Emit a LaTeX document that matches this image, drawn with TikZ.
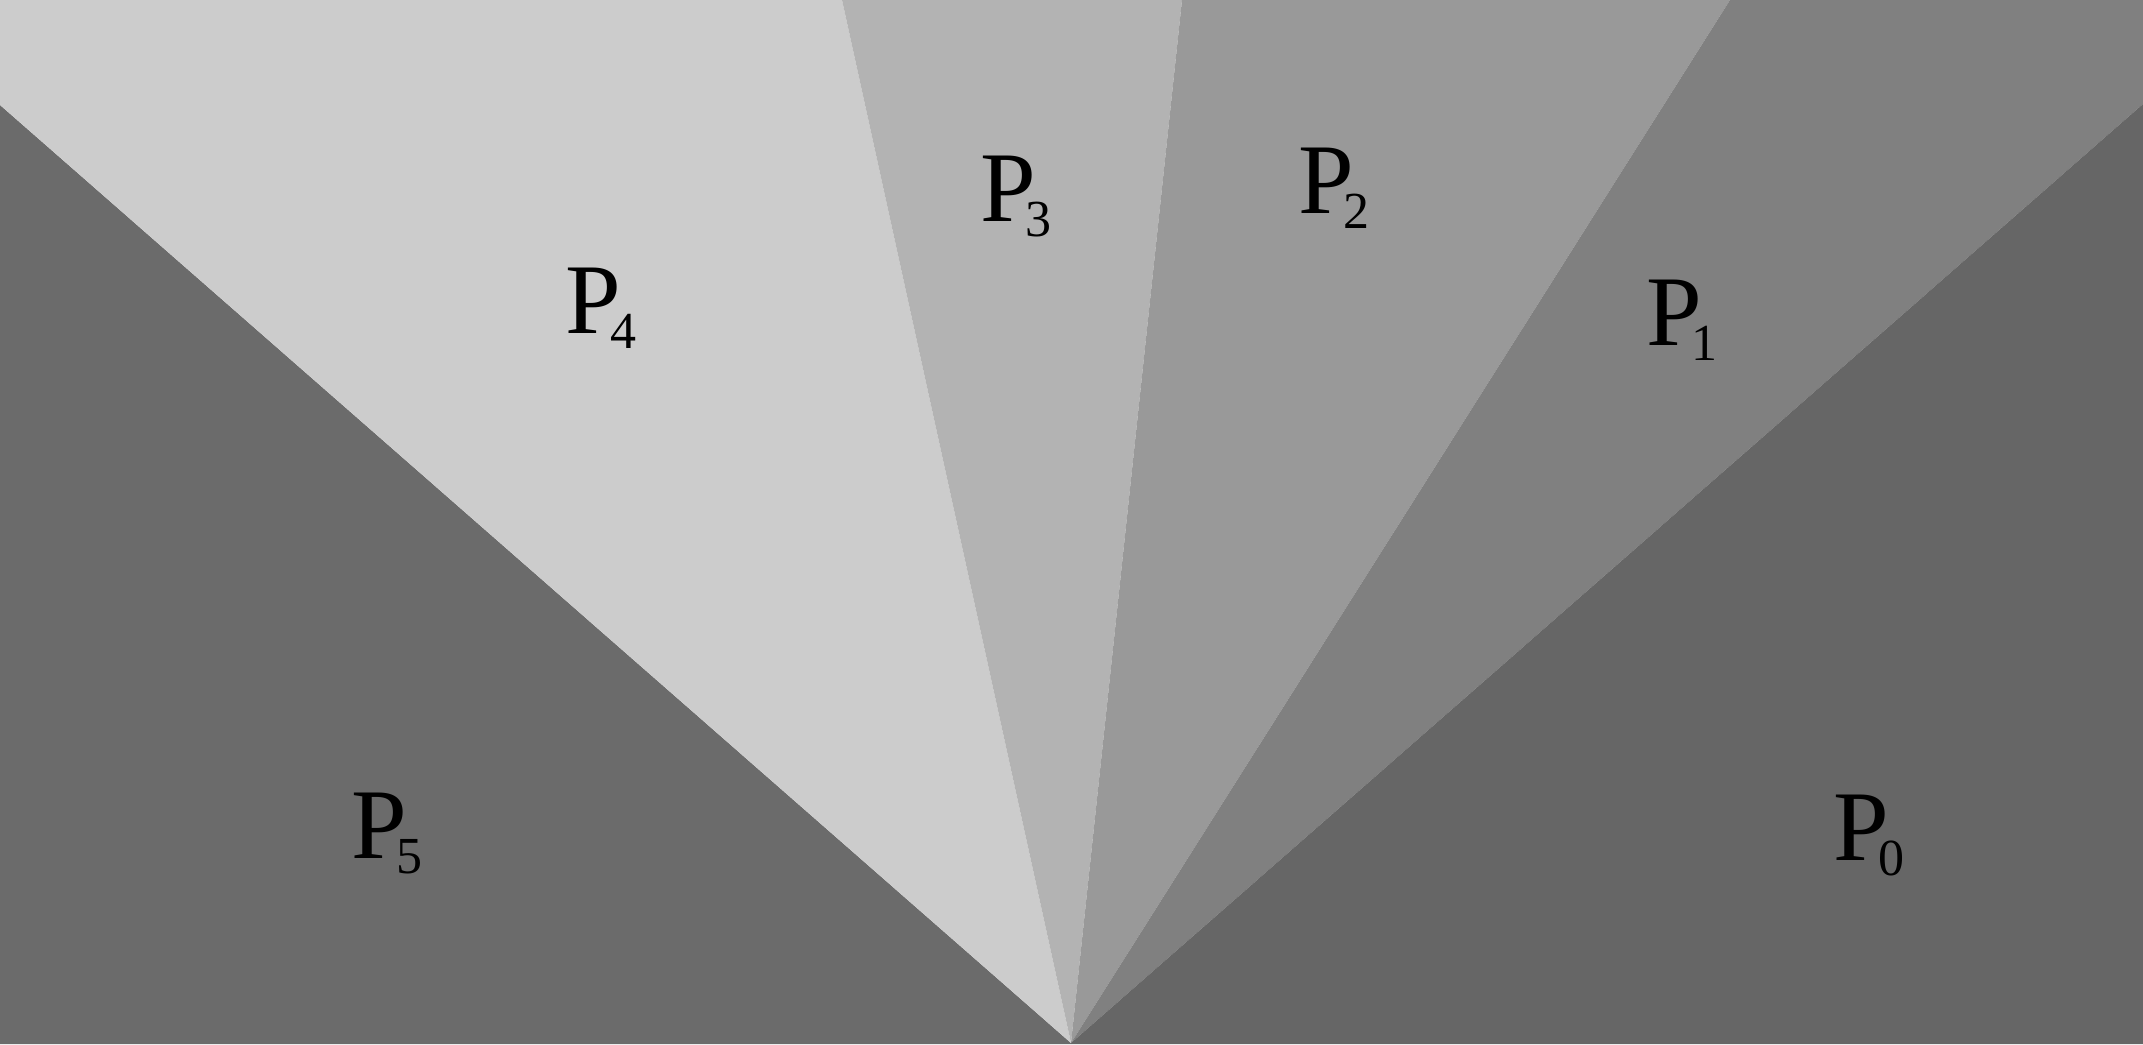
\documentclass[tikz,border=0pt]{standalone}
\usepackage{fontspec}
\setmainfont{Liberation Serif}
\definecolor{cP0}{HTML}{666666}
\definecolor{cP1}{HTML}{808080}
\definecolor{cP2}{HTML}{999999}
\definecolor{cP3}{HTML}{B3B3B3}
\definecolor{cP4}{HTML}{CCCCCC}
\definecolor{cP5}{HTML}{6B6B6B}
\newcommand{\plab}[1]{\fontsize{100}{100}\selectfont P\kern-11pt\raisebox{-15pt}{\fontsize{52}{52}\selectfont #1}}
\tikzset{
  lab/.style={inner sep=0pt, outer sep=0pt, anchor=base west, text=black},
  region/.style={draw=none}
}
\begin{document}
\begin{tikzpicture}[x=1pt,y=1pt]
\useasboundingbox (0,0) rectangle (2143,1044);
\coordinate (A) at (1071,1);
\fill[cP5,region] (0,0) -- (0,939) -- (A) -- (1071,0) -- cycle;
\fill[cP4,region] (0,939) -- (0,1044) -- (842,1044) -- (A) -- cycle;
\fill[cP3,region] (842,1044) -- (1182,1044) -- (A) -- cycle;
\fill[cP2,region] (1182,1044) -- (1730,1044) -- (A) -- cycle;
\fill[cP1,region] (1730,1044) -- (2143,1044) -- (2143,940) -- (A) -- cycle;
\fill[cP0,region] (2143,940) -- (2143,0) -- (1071,0) -- (A) -- cycle;
\node[lab] (p5) at (351.4,185) {\plab{5}};
\node[lab] (p4) at (565.4,710) {\plab{4}};
\node[lab] (p3) at (980.4,822) {\plab{3}};
\node[lab] (p2) at (1298.4,830) {\plab{2}};
\node[lab] (p1) at (1646.4,698) {\plab{1}};
\node[lab] (p0) at (1833.4,183) {\plab{0}};
\end{tikzpicture}
\end{document}
